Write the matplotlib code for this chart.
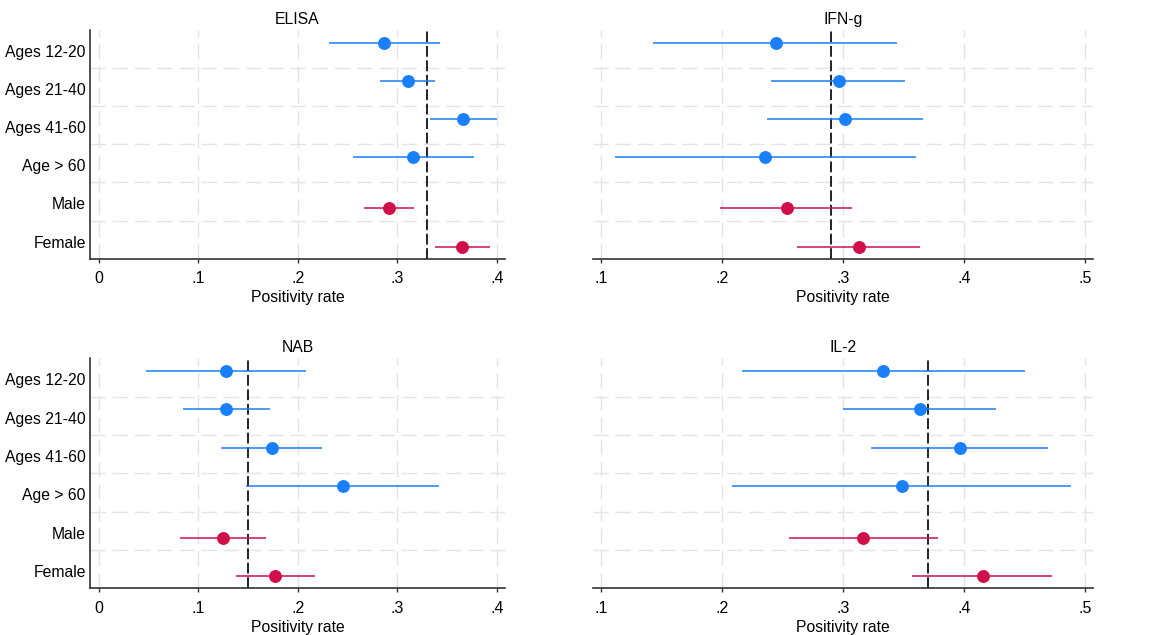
import matplotlib
matplotlib.use("Agg")
import matplotlib.pyplot as plt
import numpy as np

plt.rcParams['font.family'] = ['Liberation Sans', 'DejaVu Sans']

categories = ["Ages 12-20", "Ages 21-40", "Ages 41-60", "Age > 60", "Male", "Female"]
is_sex = [False, False, False, False, True, True]

panels = ["ELISA", "IFN-g", "NAB", "IL-2"]
ref_lines = {"ELISA": 0.33, "IFN-g": 0.29, "NAB": 0.15, "IL-2": 0.37}

elisa_est = [0.287, 0.311, 0.366, 0.316, 0.292, 0.365]
elisa_lo = [0.231, 0.283, 0.333, 0.255, 0.266, 0.338]
elisa_hi = [0.343, 0.338, 0.400, 0.377, 0.317, 0.393]

ifng_est = [0.244, 0.296, 0.301, 0.235, 0.253, 0.313]
ifng_lo = [0.143, 0.240, 0.237, 0.111, 0.198, 0.262]
ifng_hi = [0.344, 0.351, 0.366, 0.360, 0.307, 0.363]

nab_est = [0.128, 0.128, 0.174, 0.245, 0.125, 0.177]
nab_lo = [0.048, 0.085, 0.123, 0.148, 0.082, 0.138]
nab_hi = [0.208, 0.172, 0.224, 0.342, 0.168, 0.217]

il2_est = [0.333, 0.363, 0.396, 0.348, 0.316, 0.415]
il2_lo = [0.216, 0.300, 0.323, 0.208, 0.255, 0.357]
il2_hi = [0.450, 0.426, 0.469, 0.488, 0.378, 0.472]

data = {
    "ELISA": (elisa_est, elisa_lo, elisa_hi),
    "IFN-g": (ifng_est, ifng_lo, ifng_hi),
    "NAB": (nab_est, nab_lo, nab_hi),
    "IL-2": (il2_est, il2_lo, il2_hi),
}

left_ticks = [0, 0.1, 0.2, 0.3, 0.4]
left_ticklabels = ["0", ".1", ".2", ".3", ".4"]
right_ticks = [0.1, 0.2, 0.3, 0.4, 0.5]
right_ticklabels = [".1", ".2", ".3", ".4", ".5"]

BLUE = "#1A7FFA"
RED = "#CE0F4A"
GRID = "#E4E4E4"
SPINE = "#333333"

fig = plt.figure(figsize=(11.49, 6.35), dpi=100)

positions = {
    "ELISA": [0.0783, 0.5926, 0.3612, 0.3602],
    "IFN-g": [0.5161, 0.5926, 0.4352, 0.3602],
    "NAB": [0.0783, 0.0735, 0.3612, 0.3622],
    "IL-2": [0.5161, 0.0735, 0.4352, 0.3622],
}

fs = 11
ypos = np.arange(1, len(categories) + 1)

for name in panels:
    ax = fig.add_axes(positions[name])
    est, lo, hi = data[name]
    left_panel = name in ("ELISA", "NAB")
    if left_panel:
        ticks, tlabels, xlim = left_ticks, left_ticklabels, (-0.0087, 0.408)
    else:
        ticks, tlabels, xlim = right_ticks, right_ticklabels, (0.093, 0.5063)

    # grid
    for t in ticks:
        ax.axvline(t, color=GRID, lw=1.0, dashes=(11, 5), zorder=0)
    for g in np.arange(1.45, 6.0, 1.0):
        ax.axhline(g, color=GRID, lw=1.0, dashes=(11, 5), zorder=0)

    # reference line
    ax.axvline(ref_lines[name], color="#111111", lw=1.3, dashes=(6, 2), zorder=2)

    for i in range(len(categories)):
        col = RED if is_sex[i] else BLUE
        yy = ypos[i] + (0.13 if is_sex[i] else -0.22)
        ax.errorbar([est[i]], [yy],
                    xerr=[[est[i] - lo[i]], [hi[i] - est[i]]],
                    fmt="o", color=col, ecolor=col, ms=9.3, elinewidth=1.1,
                    capsize=3.2, capthick=1.1, zorder=3, markeredgewidth=0)

    ax.set_xlim(*xlim)
    ax.set_ylim(6.45, 0.45)
    ax.set_xticks(ticks)
    ax.set_xticklabels(tlabels, fontsize=fs + 0.5)
    ax.tick_params(axis="x", length=3, width=1, color=SPINE, pad=6)
    if left_panel:
        ax.set_yticks(ypos)
        ax.set_yticklabels(categories, fontsize=fs + 0.3)
        ax.tick_params(axis="y", length=0, pad=3)
    else:
        ax.set_yticks([])
    ax.set_xlabel("Positivity rate", fontsize=fs + 0.3, labelpad=3)
    ax.set_title(name, fontsize=fs + 0.3, pad=4.5)

    for s in ["top", "right"]:
        ax.spines[s].set_visible(False)
    ax.spines["left"].set_visible(left_panel)
    ax.spines["bottom"].set_color(SPINE)
    ax.spines["left"].set_color(SPINE)
    ax.spines["bottom"].set_linewidth(1.2)
    ax.spines["left"].set_linewidth(1.2)

fig.savefig("out.png", dpi=100)
